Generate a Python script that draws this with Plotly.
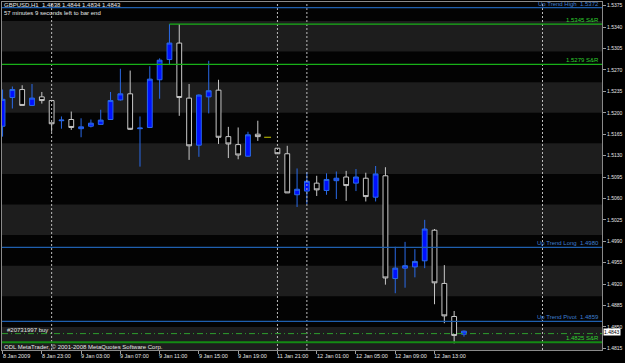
import plotly.graph_objects as go

# ---------------- data ----------------
times = [
    "8 Jan 19:00", "8 Jan 20:00", "8 Jan 21:00", "8 Jan 22:00", "8 Jan 23:00",
    "9 Jan 00:00", "9 Jan 01:00", "9 Jan 02:00", "9 Jan 03:00", "9 Jan 04:00",
    "9 Jan 05:00", "9 Jan 06:00", "9 Jan 07:00", "9 Jan 08:00", "9 Jan 09:00",
    "9 Jan 10:00", "9 Jan 11:00", "9 Jan 12:00", "9 Jan 13:00", "9 Jan 14:00",
    "9 Jan 15:00", "9 Jan 16:00", "9 Jan 17:00", "9 Jan 18:00", "9 Jan 19:00",
    "9 Jan 20:00", "9 Jan 21:00", "9 Jan 22:00", "11 Jan 21:00", "11 Jan 22:00",
    "11 Jan 23:00", "12 Jan 00:00", "12 Jan 01:00", "12 Jan 02:00", "12 Jan 03:00",
    "12 Jan 04:00", "12 Jan 05:00", "12 Jan 06:00", "12 Jan 07:00", "12 Jan 08:00",
    "12 Jan 09:00", "12 Jan 10:00", "12 Jan 11:00", "12 Jan 12:00", "12 Jan 13:00",
    "12 Jan 14:00", "12 Jan 15:00", "12 Jan 16:00",
]
opens = [1.5178, 1.5225, 1.5238, 1.5212, 1.5226, 1.5220, 1.5187, 1.5189, 1.5174, 1.5178,
         1.5181, 1.5189, 1.5221, 1.5231, 1.5174, 1.5176, 1.5254, 1.5287, 1.5314, 1.5224,
         1.5147, 1.5226, 1.5237, 1.5161, 1.5148, 1.5129, 1.5165, 1.5160, 1.5142, 1.5133,
         1.5066, 1.5072, 1.5085, 1.5073, 1.5089, 1.5095, 1.5085, 1.5093, 1.5062, 1.5097,
         1.4929, 1.4946, 1.4948, 1.4958, 1.5008, 1.4921, 1.4867, 1.4838]
highs = [1.5238, 1.5243, 1.5245, 1.5247, 1.5234, 1.5221, 1.5194, 1.5202, 1.5191, 1.5189,
         1.5205, 1.5234, 1.5272, 1.5269, 1.5194, 1.5276, 1.5289, 1.5345, 1.5345, 1.5247,
         1.5230, 1.5285, 1.5254, 1.5177, 1.5176, 1.5169, 1.5187, 1.5160, 1.5142, 1.5146,
         1.5109, 1.5103, 1.5097, 1.5101, 1.5104, 1.5105, 1.5108, 1.5102, 1.5113, 1.5111,
         1.4981, 1.4989, 1.4977, 1.5025, 1.5010, 1.4951, 1.4876, 1.4844]
lows = [1.5161, 1.5207, 1.5212, 1.5211, 1.5215, 1.5169, 1.5174, 1.5172, 1.5160, 1.5176,
        1.5181, 1.5189, 1.5220, 1.5172, 1.5112, 1.5175, 1.5223, 1.5278, 1.5195, 1.5123,
        1.5128, 1.5199, 1.5149, 1.5126, 1.5124, 1.5128, 1.5154, 1.5160, 1.5133, 1.5069,
        1.5046, 1.5051, 1.5064, 1.5066, 1.5059, 1.5056, 1.5072, 1.5055, 1.5055, 1.4919,
        1.4905, 1.4914, 1.4931, 1.4946, 1.4887, 1.4856, 1.4823, 1.4834]
closes = [1.5222, 1.5238, 1.5212, 1.5224, 1.5220, 1.5182, 1.5188, 1.5176, 1.5177, 1.5183,
          1.5188, 1.5220, 1.5231, 1.5173, 1.5175, 1.5255, 1.5286, 1.5314, 1.5225, 1.5146,
          1.5229, 1.5236, 1.5160, 1.5149, 1.5131, 1.5164, 1.5161, 1.5160, 1.5133, 1.5069,
          1.5075, 1.5088, 1.5074, 1.5091, 1.5093, 1.5081, 1.5095, 1.5063, 1.5100, 1.4930,
          1.4946, 1.4950, 1.4957, 1.5010, 1.4922, 1.4868, 1.4836, 1.4843]

price_ticks = [1.5375, 1.5340, 1.5305, 1.5270, 1.5235, 1.5200, 1.5165, 1.5130, 1.5095,
               1.5060, 1.5025, 1.4990, 1.4955, 1.4920, 1.4885, 1.4850, 1.4815]
time_labels = ["8 Jan 19:00", "8 Jan 23:00", "9 Jan 03:00", "9 Jan 07:00", "9 Jan 11:00",
               "9 Jan 15:00", "9 Jan 19:00", "11 Jan 21:00", "12 Jan 01:00", "12 Jan 05:00",
               "12 Jan 09:00", "12 Jan 13:00"]
first_label_text = "8 Jan 2009"
separators = ["9 Jan 00:00", "11 Jan 21:00", "12 Jan 00:00", "13 Jan 00:00"]

# horizontal drawn levels: (label, price, kind, start bar or None)
levels = [
    ("Up Trend High", 1.5372, "trend", None),
    ("S&R", 1.5345, "sr", "9 Jan 12:00"),
    ("S&R", 1.5279, "sr", None),
    ("Up Trend Long", 1.4980, "trend", None),
    ("Up Trend Pivot", 1.4859, "trend", None),
    ("S&R", 1.4825, "sr_main", None),
]
order_label = "#20731997 buy"
order_price = 1.4839
current_price = 1.4843
symbol_title = "GBPUSD,H1  1.4838 1.4844 1.4834 1.4843"
timer_text = "57 minutes 9 seconds left to bar end"
copyright_text = "ODL MetaTrader, \u00a9 2001-2008 MetaQuotes Software Corp."
band_step = 0.0050
band_low, band_high = 1.4800, 1.5400

# ---------------- helpers ----------------
def bar_index(t):
    if t in times:
        return times.index(t)
    day, mon, hm = t.split(" ")
    last_day, _, last_hm = times[-1].split(" ")
    hours = (int(day) - int(last_day)) * 24 + int(hm[:2]) - int(last_hm[:2])
    return len(times) - 1 + hours

W, H = 625, 363
ML, MR, MT, MB = 2, 23, 2, 13
Y_TOP, Y_BOT = 1.53811, 1.48122
X_MIN, X_MAX = -0.056, 61.06

def paper_y(pix):
    return 1 - (pix - MT) / (H - MT - MB)

FONT = "Liberation Sans"
TXT = "#e6e6e6"

xs = list(range(len(times)))
bull = [i for i in xs if closes[i] > opens[i]]
bear = [i for i in xs if closes[i] < opens[i]]
doji = [i for i in xs if closes[i] == opens[i]]

fig = go.Figure()

def candle(idx, name, line_c, fill_c, inc):
    sel = lambda arr: [arr[i] for i in idx]
    kw = dict(line=dict(color=line_c, width=1), fillcolor=fill_c)
    other = dict(line=dict(color=line_c, width=1), fillcolor=fill_c)
    return go.Candlestick(
        x=idx, open=sel(opens), high=sel(highs), low=sel(lows), close=sel(closes),
        increasing=kw if inc else other, decreasing=other if inc else kw,
        whiskerwidth=0, name=name, showlegend=False, hoverinfo="skip")

fig.add_trace(candle(bull, "bull", "#2a6ae8", "#0010ff", True))
fig.add_trace(candle(bear, "bear", "#c8c8c8", "#000000", False))
for i in doji:
    fig.add_trace(go.Scatter(x=[i - 0.35, i + 0.35], y=[closes[i], closes[i]], mode="lines",
                             line=dict(color="#c8c800", width=1), showlegend=False,
                             hoverinfo="skip"))

shapes = []
# background bands
p = band_low
k = 0
while p < band_high - 1e-9:
    if k % 2 == 0:
        shapes.append(dict(type="rect", xref="paper", yref="y", x0=0, x1=1,
                           y0=p, y1=p + band_step, fillcolor="#1d1d1d",
                           line=dict(width=0), layer="below"))
    p += band_step
    k += 1

# period separators
for s in separators:
    shapes.append(dict(type="line", xref="x", yref="paper", x0=bar_index(s), x1=bar_index(s),
                       y0=0, y1=1, line=dict(color="#bdbdbd", width=1, dash="2px,2px")))

annotations = []
colors = {"trend": ("#1f5fae", "#3f7fd0", 1.3), "sr": ("#18b018", "#2fd02f", 1.2),
          "sr_main": ("#138a13", "#2fd02f", 2)}
for label, price, kind, start in levels:
    lc, tc, lw = colors[kind]
    x0 = bar_index(start) if start else X_MIN
    shapes.append(dict(type="line", xref="x", yref="y", x0=x0, x1=X_MAX, y0=price, y1=price,
                       line=dict(color=lc, width=lw)))
    txt = f"{label}  {price:.4f}" if kind == "trend" else f"{price:.4f} {label}"
    annotations.append(dict(xref="paper", yref="y", x=0.9967, y=price, xanchor="right",
                            yanchor="bottom", text=txt, showarrow=False, borderpad=0,
                            font=dict(family=FONT, size=6, color=tc)))

# order line
shapes.append(dict(type="line", xref="paper", yref="y", x0=0, x1=1, y0=order_price,
                   y1=order_price, line=dict(color="#2e9e2e", width=1, dash="6px,3px,1px,3px")))
annotations.append(dict(xref="paper", yref="y", x=0.006, y=order_price, xanchor="left",
                        yanchor="bottom", text=order_label, showarrow=False, borderpad=0,
                        font=dict(family=FONT, size=6, color=TXT)))

# titles
annotations.append(dict(xref="paper", yref="paper", x=0.002, y=paper_y(9.3), xanchor="left",
                        yanchor="middle", align="left", showarrow=False, borderpad=0,
                        text=symbol_title + "<br>" + timer_text,
                        font=dict(family=FONT, size=6, color=TXT)))
annotations.append(dict(xref="paper", yref="paper", x=0.002, y=paper_y(346.8), xanchor="left",
                        yanchor="middle", showarrow=False, borderpad=0, text=copyright_text,
                        font=dict(family=FONT, size=6, color=TXT)))

# time labels
for t in time_labels:
    i = bar_index(t)
    txt = first_label_text if i == 0 else t
    annotations.append(dict(xref="x", yref="paper", x=max(i - 0.12, X_MIN + 0.01),
                            y=paper_y(355.5), xanchor="left", yanchor="middle", text=txt,
                            showarrow=False, borderpad=0,
                            font=dict(family=FONT, size=5.5, color=TXT)))

# current price box
annotations.append(dict(xref="paper", yref="y", x=1, xshift=1, y=current_price, yshift=-1,
                        xanchor="left", yanchor="middle", text=f"{current_price:.4f}",
                        showarrow=False, bgcolor="#ffffff", borderpad=0,
                        font=dict(family=FONT, size=5, color="#000000")))

fig.update_layout(
    width=W, height=H, margin=dict(l=ML, r=MR, t=MT, b=MB),
    paper_bgcolor="#000000", plot_bgcolor="#030303",
    shapes=shapes, annotations=annotations, showlegend=False,
    xaxis=dict(range=[X_MIN, X_MAX], showgrid=False, zeroline=False, rangeslider=dict(visible=False),
               tickvals=[bar_index(t) for t in time_labels], ticks="outside", ticklen=3,
               tickcolor="#9a9a9a", showticklabels=False, showline=True, mirror=True,
               linecolor="#8a8a8a", linewidth=1),
    yaxis=dict(range=[Y_BOT, Y_TOP], side="right", showgrid=False, zeroline=False,
               tickvals=price_ticks, ticktext=[f"{v:.4f}" for v in price_ticks],
               ticks="outside", ticklen=3, tickcolor="#9a9a9a",
               tickfont=dict(family=FONT, size=5, color=TXT),
               showline=True, mirror=True, linecolor="#8a8a8a", linewidth=1),
)

fig.write_html("out.html")
